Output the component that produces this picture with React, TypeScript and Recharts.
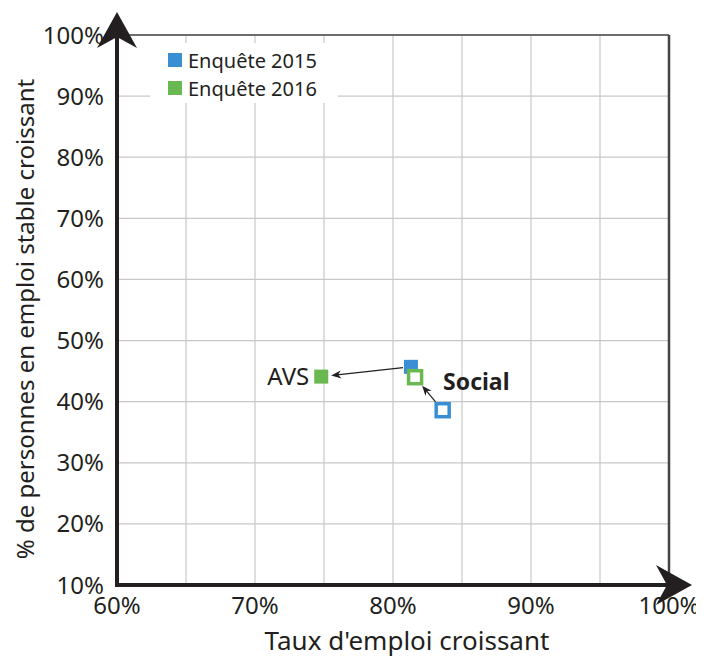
import {
  ScatterChart,
  Scatter,
  XAxis,
  YAxis,
  CartesianGrid,
  ReferenceLine,
  Legend
} from "recharts"

const categories = ["AVS", "Social"]
const taux2015 = [81.3, 83.6]
const stable2015 = [45.7, 38.6]
const taux2016 = [74.8, 81.6]
const stable2016 = [44.1, 44.0]
const seriesNames = ["Enquête 2015", "Enquête 2016"]
const xTicks = [60, 65, 70, 75, 80, 85, 90, 95, 100]
const yTicks = [10, 20, 30, 40, 50, 60, 70, 80, 90, 100]

const BLUE = "#3a8fd4"
const GREEN = "#6ab850"
const INK = "#231f20"
const FONT = "'Noto Sans', sans-serif"

const data2015 = categories.map((cat, i) => ({ cat, x: taux2015[i], y: stable2015[i] }))
const data2016 = categories.map((cat, i) => ({ cat, x: taux2016[i], y: stable2016[i] }))

// polygon for an arrow head whose tip is at (x, y), pointing along (ux, uy)
function head(x: number, y: number, ux: number, uy: number, len: number, half: number, notch: number) {
  const bx = x - ux * len
  const by = y - uy * len
  const px = -uy
  const py = ux
  return [
    `${x},${y}`,
    `${bx + px * half},${by + py * half}`,
    `${x - ux * notch},${y - uy * notch}`,
    `${bx - px * half},${by - py * half}`
  ].join(" ")
}

const axisArrow = (props: any) => {
  const { x1, y1, x2, y2 } = props
  const d = Math.hypot(x2 - x1, y2 - y1) || 1
  const ux = (x2 - x1) / d
  const uy = (y2 - y1) / d
  const tx = x2 + ux * 23
  const ty = y2 + uy * 23
  return (
    <g>
      <line
        x1={x1 - ux * 2}
        y1={y1 - uy * 2}
        x2={tx - ux * 20}
        y2={ty - uy * 20}
        stroke={INK}
        strokeWidth={4}
      />
      <polygon points={head(tx, ty, ux, uy, 36, 20, 25)} fill={INK} />
    </g>
  )
}

const dataArrow = (gapStart: number, gapEnd: number) => (props: any) => {
  const { x1, y1, x2, y2 } = props
  const d = Math.hypot(x2 - x1, y2 - y1) || 1
  const ux = (x2 - x1) / d
  const uy = (y2 - y1) / d
  const sx = x1 + ux * gapStart
  const sy = y1 + uy * gapStart
  const tx = x2 - ux * gapEnd
  const ty = y2 - uy * gapEnd
  return (
    <g>
      <line x1={sx} y1={sy} x2={tx - ux * 6} y2={ty - uy * 6} stroke={INK} strokeWidth={1.2} />
      <polygon points={head(tx, ty, ux, uy, 10, 4, 7)} fill={INK} />
    </g>
  )
}

const gaps: Record<string, [number, number]> = { AVS: [8, 10], Social: [11, 11] }

const marker = (color: string, withLabel: boolean) => (props: any) => {
  const { cx, cy, payload } = props
  const hollow = payload.cat === "Social"
  return (
    <g>
      {hollow ? (
        <rect x={cx - 6.5} y={cy - 6.5} width={13} height={13} fill="#fff" stroke={color} strokeWidth={3.5} />
      ) : (
        <rect x={cx - 7} y={cy - 7} width={14} height={14} fill={color} />
      )}
      {withLabel && payload.cat === "AVS" && (
        <text x={cx - 12} y={cy + 8} textAnchor="end" fontSize={24} fill={INK} fontFamily={FONT}>
          {payload.cat}
        </text>
      )}
      {withLabel && payload.cat === "Social" && (
        <text x={cx + 28} y={cy + 13} textAnchor="start" fontSize={23} fontWeight="bold" fill={INK} fontFamily={FONT}>
          {payload.cat}
        </text>
      )}
    </g>
  )
}

const LegendBox = () => (
  <div
    style={{
      background: "#fff",
      width: 188,
      height: 60,
      paddingTop: 3,
      boxSizing: "border-box",
      fontFamily: FONT,
      fontSize: 20,
      color: INK
    }}
  >
    {seriesNames.map((name, i) => (
      <div key={name} style={{ display: "flex", alignItems: "center", height: 28, paddingLeft: 18 }}>
        <span style={{ width: 14, height: 14, background: i === 0 ? BLUE : GREEN, marginRight: 6 }} />
        <span>{name}</span>
      </div>
    ))}
  </div>
)

export default function App() {
  return (
    <div style={{ fontFamily: FONT }}>
      <ScatterChart
        width={696}
        height={649}
        margin={{ top: 27, right: 35, left: 0, bottom: 0 }}
        style={{ fontFamily: FONT }}
      >
        <CartesianGrid stroke="#c8c8c8" strokeWidth={1.2} />

        <XAxis
          type="number"
          dataKey="x"
          domain={[60, 100]}
          ticks={xTicks}
          interval={0}
          height={72}
          axisLine={false}
          tickLine={false}
          tickMargin={6}
          tick={{ fill: INK, fontSize: 24, fontFamily: FONT }}
          tickFormatter={(v: number) => (v % 10 === 0 ? `${v}%` : "")}
          label={{
            content: (p: any) => {
              const { x, y, width } = p.viewBox
              return (
                <text x={x + width / 2 + 14} y={y + 65} textAnchor="middle" fontSize={26} fill={INK} fontFamily={FONT}>
                  Taux d'emploi croissant
                </text>
              )
            }
          }}
        />

        <YAxis
          type="number"
          dataKey="y"
          domain={[10, 100]}
          ticks={yTicks}
          interval={0}
          width={109}
          axisLine={false}
          tickLine={false}
          tickMargin={7}
          tick={{ fill: INK, fontSize: 24, fontFamily: FONT }}
          tickFormatter={(v: number) => `${v}%`}
          label={{
            content: (p: any) => {
              const { x, y, height } = p.viewBox
              const lx = x + 16
              const ly = y + height / 2 + 9
              return (
                <text
                  x={lx}
                  y={ly}
                  transform={`rotate(-90, ${lx}, ${ly})`}
                  textAnchor="middle"
                  dominantBaseline="central"
                  fontSize={24}
                  fill={INK}
                  fontFamily={FONT}
                >
                  % de personnes en emploi stable croissant
                </text>
              )
            }
          }}
        />

        <ReferenceLine y={100} stroke="#6d6d6d" strokeWidth={2} />
        <ReferenceLine x={100} stroke="#444" strokeWidth={2.5} />

        <ReferenceLine segment={[{ x: 60, y: 10 }, { x: 100, y: 10 }]} shape={axisArrow} />
        <ReferenceLine segment={[{ x: 60, y: 10 }, { x: 60, y: 100 }]} shape={axisArrow} />

        {categories.map((cat, i) => (
          <ReferenceLine
            key={cat}
            segment={[
              { x: taux2015[i], y: stable2015[i] },
              { x: taux2016[i], y: stable2016[i] }
            ]}
            shape={dataArrow(gaps[cat][0], gaps[cat][1])}
          />
        ))}

        <Scatter
          name={seriesNames[0]}
          data={data2015}
          fill={BLUE}
          shape={marker(BLUE, false)}
          isAnimationActive={false}
        />
        <Scatter
          name={seriesNames[1]}
          data={data2016}
          fill={GREEN}
          shape={marker(GREEN, true)}
          isAnimationActive={false}
        />

        <Legend
          layout="vertical"
          align="center"
          verticalAlign="middle"
          wrapperStyle={{ top: 35, left: 142, width: 188 }}
          content={() => <LegendBox />}
        />
      </ScatterChart>
    </div>
  )
}
